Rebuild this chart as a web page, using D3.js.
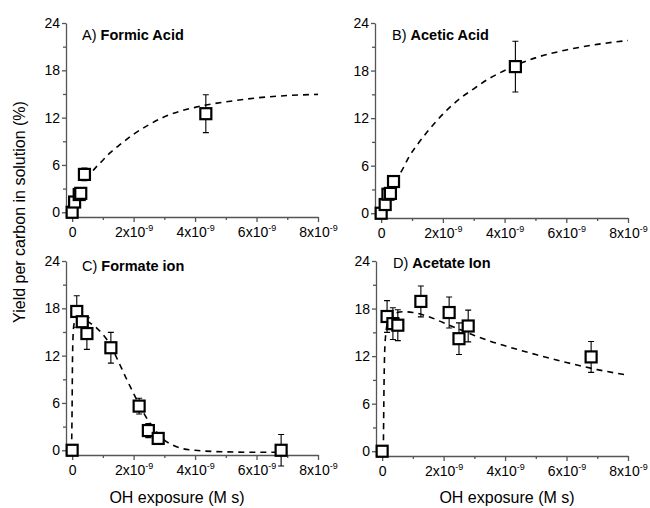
<!DOCTYPE html>
<html>
<head>
<meta charset="utf-8">
<script src="https://cdn.jsdelivr.net/npm/d3@7"></script>
<style>
  body { margin: 0; background: #fff; }
  svg { font-family: "Liberation Sans", Arial, sans-serif; }
</style>
</head>
<body>
<div id="chart"></div>
<script>
// OH exposure values are in units of 1e-9 M s, yields in %
const xTicks = [0, 2, 4, 6, 8];
const xMinor = [1, 3, 5, 7];
const yTicks = [0, 6, 12, 18, 24];
const yMinor = [3, 9, 15, 21];

// A) Formic Acid
const formicX = [0, 0.08, 0.23, 0.28, 0.4, 4.35];
const formicY = [0, 1.3, 2.25, 2.4, 4.8, 12.5];
const formicErr = [0, 0, 0, 0, 0.8, 2.4];
const formicFitX = [0.45, 0.75, 1.0, 1.25, 1.5, 2.0, 2.5, 3.0, 3.5, 4.0, 4.5, 5.0, 6.0, 7.0, 8.0];
const formicFitY = [4.2, 5.6, 6.6, 7.6, 8.4, 9.9, 11.1, 12.1, 12.8, 13.3, 13.7, 14.0, 14.5, 14.8, 14.95];

// B) Acetic Acid
const aceticX = [0, 0.13, 0.22, 0.3, 0.4, 4.35];
const aceticY = [0, 1.1, 2.4, 2.5, 4.0, 18.5];
const aceticErr = [0, 0, 0, 0, 0, 3.2];
const aceticFitX = [0.45, 0.7, 0.9, 1.2, 1.5, 2.0, 2.5, 3.0, 3.5, 4.0, 5.0, 6.0, 7.0, 8.0];
const aceticFitY = [4.0, 5.6, 7.1, 8.8, 10.3, 12.5, 14.3, 15.7, 17.0, 18.0, 19.6, 20.6, 21.3, 21.8];

// C) Formate ion
const formateX = [0, 0.15, 0.33, 0.48, 1.26, 2.18, 2.48, 2.8, 6.8];
const formateY = [0, 17.6, 16.3, 14.8, 13.0, 5.6, 2.5, 1.5, 0];
const formateErr = [0, 2.0, 0, 2.0, 1.95, 1.0, 0.9, 0, 2.0];
const formateFitX = [-0.02, 0.0, 0.01, 0.03, 0.06, 0.12, 0.25, 0.4, 0.6, 0.8, 1.0, 1.25, 1.5, 1.75, 2.0, 2.25, 2.5, 2.75, 3.0, 3.25, 3.5, 4.0, 5.0, 6.0, 7.0];
const formateFitY = [0, 6, 11, 14.5, 16.0, 16.6, 16.7, 16.5, 16.1, 15.5, 14.7, 13.3, 11.3, 9.2, 7.2, 5.3, 3.6, 2.3, 1.3, 0.7, 0.3, 0.0, -0.2, -0.25, -0.25];

// D) Acetate Ion
const acetateX = [0, 0.16, 0.35, 0.51, 1.26, 2.18, 2.5, 2.8, 6.8];
const acetateY = [0, 17.0, 16.1, 15.9, 18.9, 17.5, 14.2, 15.8, 11.9];
const acetateErr = [0, 2.0, 2.0, 1.95, 1.95, 1.95, 2.0, 2.0, 1.95];
const acetateFitX = [0.04, 0.06, 0.1, 0.2, 0.4, 0.7, 1.0, 1.5, 2.0, 2.5, 3.0, 3.5, 4.0, 5.0, 6.0, 7.0, 8.0];
const acetateFitY = [0, 8, 14, 16.5, 17.4, 17.6, 17.5, 17.0, 16.2, 15.4, 14.6, 13.9, 13.3, 12.2, 11.2, 10.3, 9.6];

const panels = [
  { letter: 'A) ', name: 'Formic Acid', x: formicX, y: formicY, err: formicErr, fx: formicFitX, fy: formicFitY,
    left: 66, right: 318, top: 23, bottom: 217, titleX: 82, titleY: 40 },
  { letter: 'B) ', name: 'Acetic Acid', x: aceticX, y: aceticY, err: aceticErr, fx: aceticFitX, fy: aceticFitY,
    left: 375, right: 628, top: 23, bottom: 218, titleX: 392, titleY: 40 },
  { letter: 'C) ', name: 'Formate ion', x: formateX, y: formateY, err: formateErr, fx: formateFitX, fy: formateFitY,
    left: 66, right: 318, top: 261, bottom: 455, titleX: 82, titleY: 271 },
  { letter: 'D) ', name: 'Acetate Ion', x: acetateX, y: acetateY, err: acetateErr, fx: acetateFitX, fy: acetateFitY,
    left: 376, right: 628, top: 261, bottom: 456, titleX: 393, titleY: 268 }
];

const width = 650;
const height = 508;

const svg = d3.select('#chart').append('svg')
  .attr('width', width)
  .attr('height', height);

panels.forEach(p => {
  const x = d3.scaleLinear().domain([-0.2, 8]).range([p.left, p.right]);
  const y = d3.scaleLinear().domain([-0.6, 24]).range([p.bottom, p.top]);
  const g = svg.append('g');

  // x axis
  const xAxis = g.append('g')
    .attr('transform', `translate(0,${p.bottom})`)
    .call(d3.axisBottom(x).tickValues(xTicks).tickSize(5).tickSizeOuter(0).tickFormat(() => ''));
  xAxis.selectAll('.tick text').remove();
  xAxis.selectAll('.tick')
    .append('text')
    .attr('y', 20)
    .attr('fill', '#000')
    .attr('text-anchor', 'middle')
    .attr('font-size', 14)
    .each(function(d) {
      const t = d3.select(this);
      if (d === 0) { t.text('0'); return; }
      t.append('tspan').text(d + 'x10');
      t.append('tspan').attr('dy', -6).attr('font-size', 9).text('-9');
    });
  g.append('g')
    .attr('transform', `translate(0,${p.bottom})`)
    .call(d3.axisBottom(x).tickValues(xMinor).tickSize(3).tickSizeOuter(0).tickFormat(''))
    .select('.domain').remove();

  // y axis
  const yAxis = g.append('g')
    .attr('transform', `translate(${p.left},0)`)
    .call(d3.axisLeft(y).tickValues(yTicks).tickSize(4).tickSizeOuter(0).tickPadding(2));
  yAxis.selectAll('.tick text').attr('font-size', 14).attr('fill', '#000');
  g.append('g')
    .attr('transform', `translate(${p.left},0)`)
    .call(d3.axisLeft(y).tickValues(yMinor).tickSize(3).tickSizeOuter(0).tickFormat(''))
    .select('.domain').remove();

  g.selectAll('.domain, .tick line').attr('stroke', '#555').attr('stroke-width', 1.3);

  // fitted curve
  const line = d3.line().x(d => x(d[0])).y(d => y(d[1])).curve(d3.curveMonotoneX);
  g.append('path')
    .datum(d3.zip(p.fx, p.fy))
    .attr('d', line)
    .attr('fill', 'none')
    .attr('stroke', '#000')
    .attr('stroke-width', 1.6)
    .attr('stroke-dasharray', '6,5');

  const pts = d3.zip(p.x, p.y, p.err).filter(d => d[2] > 0);
  // error bars
  g.selectAll('.eb')
    .data(pts)
    .enter().append('path')
    .attr('d', d => {
      const cx = x(d[0]), y1 = y(d[1] + d[2]), y2 = y(d[1] - d[2]);
      return `M${cx},${y1}V${y2}M${cx - 3},${y1}H${cx + 3}M${cx - 3},${y2}H${cx + 3}`;
    })
    .attr('stroke', '#000')
    .attr('stroke-width', 1.1)
    .attr('fill', 'none');

  // square markers
  g.selectAll('.pt')
    .data(d3.zip(p.x, p.y))
    .enter().append('rect')
    .attr('x', d => x(d[0]) - 5.5)
    .attr('y', d => y(d[1]) - 5.5)
    .attr('width', 11)
    .attr('height', 11)
    .attr('fill', '#fff')
    .attr('stroke', '#000')
    .attr('stroke-width', 2.2);

  // panel title
  const title = g.append('text')
    .attr('x', p.titleX)
    .attr('y', p.titleY)
    .attr('font-size', 14.5)
    .attr('fill', '#000');
  title.append('tspan').text(p.letter);
  title.append('tspan').attr('font-weight', 'bold').text(p.name);
});

// shared axis labels
svg.append('text')
  .attr('transform', 'translate(25,212) rotate(-90)')
  .attr('text-anchor', 'middle')
  .attr('font-size', 16)
  .attr('fill', '#000')
  .text('Yield per carbon in solution (%)');

[177, 507].forEach(cx => {
  svg.append('text')
    .attr('x', cx)
    .attr('y', 503)
    .attr('text-anchor', 'middle')
    .attr('font-size', 16)
    .attr('fill', '#000')
    .text('OH exposure (M s)');
});
</script>
</body>
</html>
